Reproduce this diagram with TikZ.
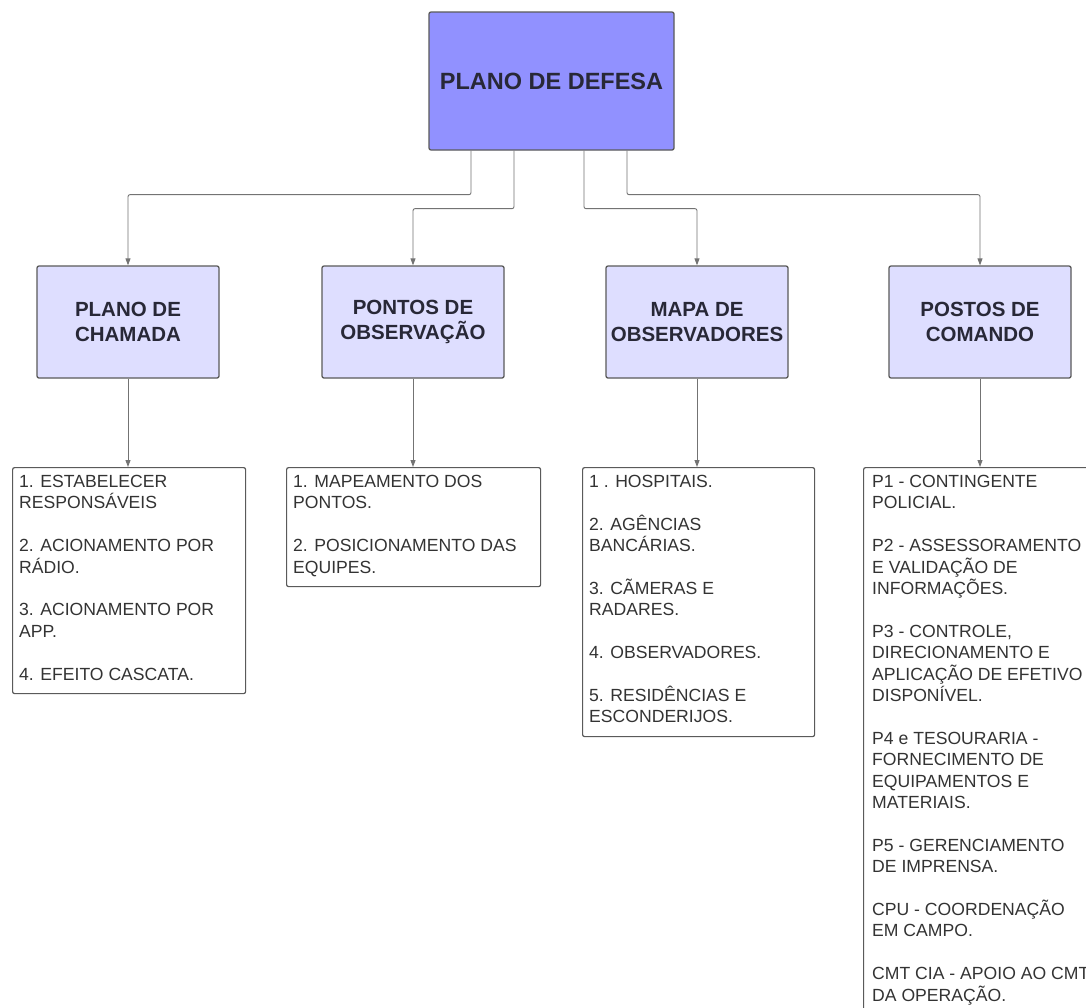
\documentclass[tikz,border=0pt]{standalone}
\usepackage{fontspec}
\setmainfont{Liberation Sans}
\usetikzlibrary{arrows.meta}
\definecolor{topfill}{RGB}{145,145,255}
\definecolor{childfill}{RGB}{222,222,255}
\definecolor{bordergray}{RGB}{90,90,90}
\definecolor{linegray}{RGB}{115,115,115}
\definecolor{txt}{RGB}{51,51,51}
\definecolor{titletxt}{RGB}{40,40,55}
\begin{document}
\begin{tikzpicture}[x=1pt,y=-1pt,
 topbox/.style={draw=bordergray, line width=1.3pt, fill=topfill, rounded corners=2pt, minimum width=245pt, minimum height=138pt, font=\fontsize{23.5}{28}\selectfont\bfseries, text=titletxt},
 childbox/.style={draw=bordergray, line width=1.3pt, fill=childfill, rounded corners=2pt, minimum width=182pt, minimum height=112pt, align=center, font=\fontsize{20.5}{25}\selectfont\bfseries, text=titletxt},
 listbox/.style={draw=bordergray, line width=1.2pt, fill=white, rounded corners=2pt, anchor=north west, inner sep=0pt},
 listtext/.style={anchor=north west, inner sep=0pt, align=left, text=txt, font=\fontsize{17.6}{21.4}\selectfont},
 conn/.style={draw=linegray, line width=0.9pt, rounded corners=2pt, -{Triangle[length=7pt,width=5pt]}}]
\useasboundingbox (0,0) rectangle (1086,1007);
\clip (0,0) rectangle (1086,1007);
\fill[white] (0,0) rectangle (1086,1007);

\node[topbox] (top) at (551.5,81) {PLANO DE DEFESA};

\node[childbox] (c1) at (128,322) {PLANO DE\\CHAMADA};
\node[childbox] (c2) at (413,322) {PONTOS DE\\OBSERVAÇÃO};
\node[childbox] (c3) at (697,322) {MAPA DE\\OBSERVADORES};
\node[childbox] (c4) at (980,322) {POSTOS DE\\COMANDO};

\node[listbox, minimum width=233pt, minimum height=226pt] (l1) at (12,467) {};
\node[listbox, minimum width=254pt, minimum height=119pt] (l2) at (286,467) {};
\node[listbox, minimum width=232pt, minimum height=269pt] (l3) at (582,467) {};
\node[listbox, minimum width=240pt, minimum height=560pt] (l4) at (863,467) {};

\node[listtext] (t1) at (19,475) {1. ESTABELECER\\RESPONSÁVEIS\\[21.4pt]2. ACIONAMENTO POR\\RÁDIO.\\[21.4pt]3. ACIONAMENTO POR\\APP.\\[21.4pt]4. EFEITO CASCATA.};
\node[listtext] (t2) at (293,475) {1. MAPEAMENTO DOS\\PONTOS.\\[21.4pt]2. POSICIONAMENTO DAS\\EQUIPES.};
\node[listtext] (t3) at (589,475) {1 . HOSPITAIS.\\[21.4pt]2. AGÊNCIAS\\BANCÁRIAS.\\[21.4pt]3. CÃMERAS E\\RADARES.\\[21.4pt]4. OBSERVADORES.\\[21.4pt]5. RESIDÊNCIAS E\\ESCONDERIJOS.};
\node[listtext] (t4) at (872,475) {P1 - CONTINGENTE\\POLICIAL.\\[21.4pt]P2 - ASSESSORAMENTO\\E VALIDAÇÃO DE\\INFORMAÇÕES.\\[21.4pt]P3 - CONTROLE,\\DIRECIONAMENTO E\\APLICAÇÃO DE EFETIVO\\DISPONÍVEL.\\[21.4pt]P4 e TESOURARIA -\\FORNECIMENTO DE\\EQUIPAMENTOS E\\MATERIAIS.\\[21.4pt]P5 - GERENCIAMENTO\\DE IMPRENSA.\\[21.4pt]CPU - COORDENAÇÃO\\EM CAMPO.\\[21.4pt]CMT CIA - APOIO AO CMT\\DA OPERAÇÃO.};

\draw[conn] ([xshift=-80.5pt]top.south) -- ++(0,44) -| (c1.north);
\draw[conn] ([xshift=-37.5pt]top.south) -- ++(0,58) -| (c2.north);
\draw[conn] ([xshift=32.5pt]top.south) -- ++(0,58) -| (c3.north);
\draw[conn] ([xshift=75.5pt]top.south) -- ++(0,44) -| (c4.north);

\draw[conn] (c1.south) -- (c1.south |- l1.north);
\draw[conn] (c2.south) -- (c2.south |- l2.north);
\draw[conn] (c3.south) -- (c3.south |- l3.north);
\draw[conn] (c4.south) -- (c4.south |- l4.north);
\end{tikzpicture}
\end{document}
